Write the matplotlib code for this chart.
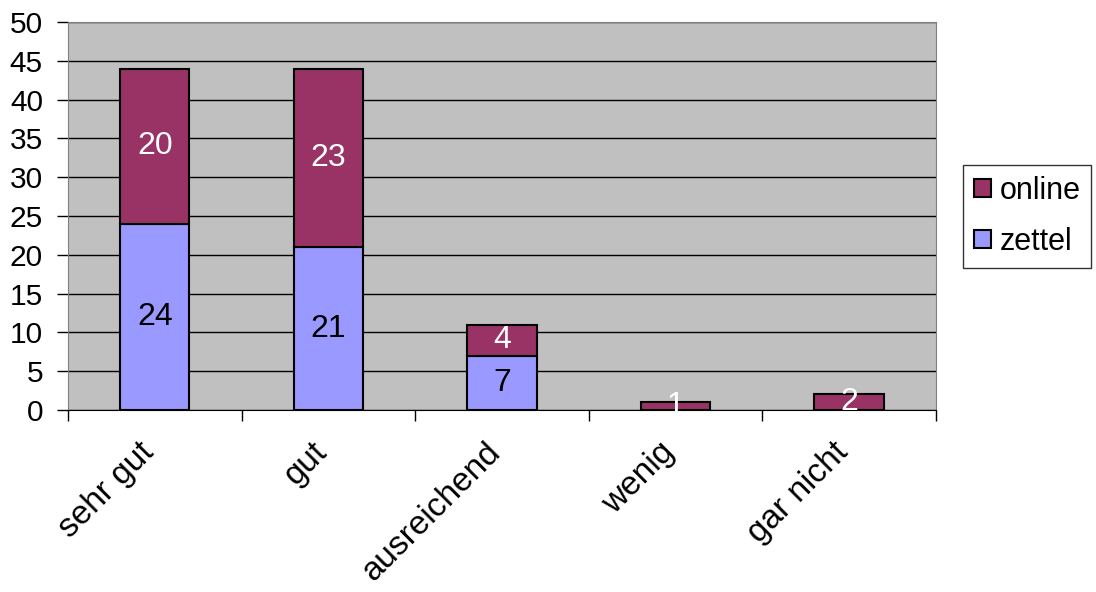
import matplotlib.pyplot as plt
import matplotlib.transforms as mtrans
import numpy as np

plt.rcParams['font.family'] = ['Liberation Sans', 'DejaVu Sans']

categories = ['sehr gut', 'gut', 'ausreichend', 'wenig', 'gar nicht']
zettel = [24, 21, 7, 0, 0]
online = [20, 23, 4, 1, 2]

fig = plt.figure(figsize=(10.96, 5.92), dpi=100)
ax = fig.add_axes([0.062, 0.3074, 0.792, 0.6554])
ax.set_facecolor('#C0C0C0')

x = np.arange(len(categories))
w = 0.4
b1 = ax.bar(x, zettel, w, color='#9999FF', edgecolor='black', linewidth=1.5, label='zettel', zorder=3)
b2 = ax.bar(x, online, w, bottom=zettel, color='#993366', edgecolor='black', linewidth=1.5, label='online', zorder=3)

for i in range(len(categories)):
    if zettel[i] > 0:
        ax.text(x[i], zettel[i] / 2, str(zettel[i]), ha='center', va='center', fontsize=23, color='black', zorder=4)
    if online[i] > 0:
        ax.text(x[i], zettel[i] + online[i] / 2, str(online[i]), ha='center', va='center', fontsize=23, color='white', zorder=4)

ax.set_xlim(-0.5, len(categories) - 0.5)
ax.set_ylim(0, 50)
ax.set_yticks(range(0, 51, 5))
ax.yaxis.grid(True, color='black', linewidth=1)
ax.set_axisbelow(True)
ax.tick_params(axis='y', labelsize=21.5, length=8, direction='out', width=1, pad=10)

ax.set_xticks(x)
ax.set_xticklabels(categories, rotation=45, ha='right', va='center', rotation_mode='anchor', fontsize=24)
ax.tick_params(axis='x', length=0, pad=27)
offset = mtrans.ScaledTranslation(-6 / 100, 0, fig.dpi_scale_trans)
for lab in ax.get_xticklabels():
    lab.set_transform(lab.get_transform() + offset)
ax.set_xticks(np.arange(-0.5, len(categories), 1), minor=True)
ax.tick_params(axis='x', which='minor', length=8, width=1)

for s in ['top', 'right', 'left']:
    ax.spines[s].set_color('#808080')
ax.spines['bottom'].set_color('black')

handles = [b2, b1]
leg = fig.legend(handles, ['online', 'zettel'], loc='upper left', bbox_to_anchor=(0.8787, 0.7213),
                 fontsize=22, frameon=True, fancybox=False, edgecolor='black',
                 handlelength=0.55, handleheight=0.55, handletextpad=0.3, labelspacing=0.7,
                 borderpad=0.35, borderaxespad=0)
leg.get_frame().set_linewidth(1)

fig.savefig('out.png', dpi=100)
